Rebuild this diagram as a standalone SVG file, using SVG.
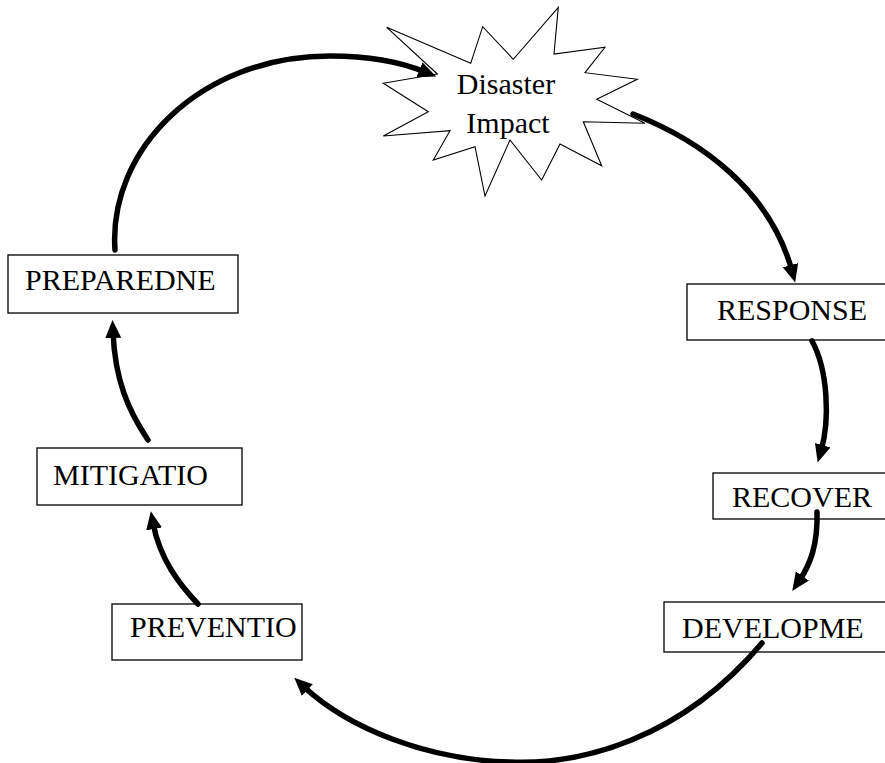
<svg xmlns="http://www.w3.org/2000/svg" width="885" height="763" viewBox="0 0 885 763">
<style>
.box{fill:#fff;stroke:#000;stroke-width:1.3}
.star{fill:#fff;stroke:#000;stroke-width:1.1;stroke-linejoin:miter}
.lbl{font-family:"Liberation Serif","Times New Roman",serif;font-size:30px;fill:#000}
.conn{fill:none;stroke:#000;stroke-width:5.5;stroke-linecap:round}
</style>
<defs>
<marker id="ah" markerUnits="userSpaceOnUse" markerWidth="24" markerHeight="24" refX="6" refY="8" orient="auto">
<path d="M0,0 L18,8 L0,16 z" fill="#000"/>
</marker>
</defs>
<rect width="885" height="763" fill="#fff"/>
<g id="disaster">
<polygon class="star" points="386.7,27.3 470.7,63.3 482.7,26.7 513.3,59.3 558.3,7.3 554,54 605,47.3 585,72.7 637.3,79.3 596.7,99.3 645,123.3 583.3,121.7 601.7,165.7 560,144 541.7,180 510,140 485,196 475,146.7 433.3,160 450,130.7 383.3,136 428.3,111.7 383.3,83.3 437.3,74"/>
<text class="lbl" x="506" y="94" text-anchor="middle">Disaster</text>
<text class="lbl" x="508" y="133" text-anchor="middle">Impact</text>
</g>
<g id="preparedness">
<rect class="box" x="8" y="255" width="230" height="58"/>
<text class="lbl" x="25" y="290">PREPAREDNE</text>
</g>
<g id="response">
<rect class="box" x="687" y="284" width="210" height="56"/>
<text class="lbl" x="717" y="320">RESPONSE</text>
</g>
<g id="mitigation">
<rect class="box" x="37" y="448" width="205" height="57"/>
<text class="lbl" x="53" y="485">MITIGATIO</text>
</g>
<g id="recovery">
<rect class="box" x="713" y="473" width="190" height="46"/>
<text class="lbl" x="732" y="507">RECOVER</text>
</g>
<g id="development">
<rect class="box" x="664" y="602" width="240" height="50"/>
<text class="lbl" x="682" y="638">DEVELOPME</text>
</g>
<g id="prevention">
<rect class="box" x="112" y="604" width="190" height="56"/>
<text class="lbl" x="130" y="637">PREVENTIO</text>
</g>
<g id="connectors">
<path class="conn" marker-end="url(#ah)" d="M115,250 C108,150 200,56 330,56 C370,56 403,63 425,72"/>
<path class="conn" marker-end="url(#ah)" d="M633,114 C700,140 770,190 792,271"/>
<path class="conn" marker-end="url(#ah)" d="M812,341 C828,370 830,420 821,451"/>
<path class="conn" marker-end="url(#ah)" d="M817,512 C818,545 810,565 799,581"/>
<path class="conn" marker-end="url(#ah)" d="M762,643 C680,740 580,765 510,762 C430,760 350,730 303,686"/>
<path class="conn" marker-end="url(#ah)" d="M198,604 C180,585 160,560 153,523"/>
<path class="conn" marker-end="url(#ah)" d="M148,440 C128,410 115,380 113,332"/>
</g>
</svg>
